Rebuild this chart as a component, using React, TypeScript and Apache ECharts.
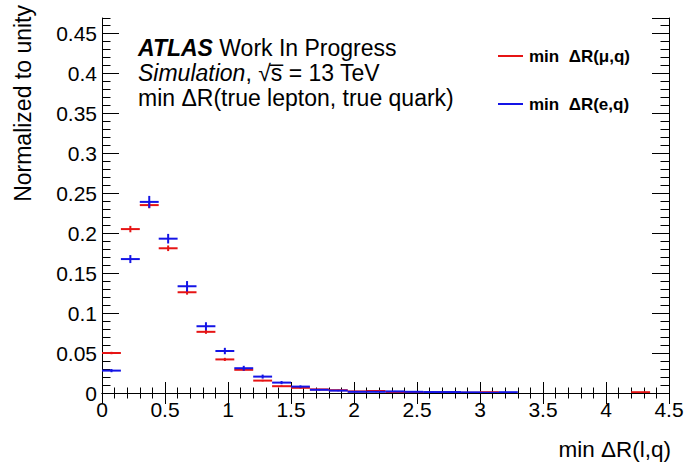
import React, { useEffect, useRef } from "react";
import * as echarts from "echarts";

// Bin edges of the histogram (min ΔR)
const binEdges = [
  0, 0.15, 0.3, 0.45, 0.6, 0.75, 0.9, 1.05, 1.2, 1.35, 1.5, 1.65, 1.8, 1.95, 2.1, 2.25,
  2.4, 2.55, 2.7, 2.85, 3.0, 3.15, 3.3, 3.45, 3.6, 3.75, 3.9, 4.05, 4.2, 4.35, 4.5,
];

// min ΔR(μ,q) normalised contents and errors
const muValues = [
  0.05, 0.205, 0.235, 0.181, 0.126, 0.0765, 0.042, 0.029, 0.0155, 0.0085, 0.0065, 0.0045,
  0.0035, 0.002, 0.0025, 0.001, 0.001, 0.0005, 0.0005, 0.0003, 0.001, 0, 0, 0, 0, 0, 0, 0,
  0.001, 0,
];
const muErrors = [
  0.0015, 0.004, 0.004, 0.0035, 0.003, 0.0025, 0.002, 0.0015, 0.001, 0.001, 0.0008, 0.0006,
  0.0005, 0.0004, 0.0004, 0.0003, 0.0003, 0.0002, 0.0002, 0.0002, 0.0003, 0, 0, 0, 0, 0, 0, 0,
  0.0003, 0,
];

// min ΔR(e,q) normalised contents and errors
const eValues = [
  0.028, 0.1675, 0.239, 0.193, 0.1335, 0.0835, 0.0525, 0.031, 0.0205, 0.013, 0.008, 0.004,
  0.003, 0.0015, 0.0015, 0.002, 0.0015, 0.0012, 0.0012, 0.0008, 0.0003, 0.001, 0, 0, 0, 0, 0,
  0, 0, 0,
];
const eErrors = [
  0.002, 0.005, 0.0075, 0.006, 0.0065, 0.005, 0.004, 0.003, 0.0025, 0.002, 0.0015, 0.001,
  0.0008, 0.0005, 0.0005, 0.0006, 0.0005, 0.0004, 0.0004, 0.0003, 0.0002, 0.0003, 0, 0, 0, 0,
  0, 0, 0, 0,
];

const RED = "#e61414";
const BLUE = "#1414e6";
const FONT = "Liberation Sans";

function buildData(values: number[], errors: number[]) {
  const out: number[][] = [];
  values.forEach((v, i) => {
    if (v > 0) out.push([binEdges[i], binEdges[i + 1], v, errors[i]]);
  });
  return out;
}

function histSeries(name: string, values: number[], errors: number[], color: string) {
  return {
    type: "custom",
    name,
    xAxisIndex: 0,
    yAxisIndex: 0,
    clip: true,
    encode: { x: [0, 1], y: 2 },
    data: buildData(values, errors),
    renderItem: (params: any, api: any) => {
      const x0 = api.value(0);
      const x1 = api.value(1);
      const y = api.value(2);
      const e = api.value(3);
      const p0 = api.coord([x0, y]);
      const p1 = api.coord([x1, y]);
      const xc = (x0 + x1) / 2;
      const pt = api.coord([xc, y + e]);
      const pb = api.coord([xc, y - e]);
      const children: any[] = [
        {
          type: "line",
          shape: { x1: p0[0], y1: p0[1], x2: p1[0], y2: p1[1] },
          style: { stroke: color, lineWidth: 2 },
        },
      ];
      if (pb[1] - pt[1] > 0.5) {
        children.push({
          type: "line",
          shape: { x1: pt[0], y1: pt[1], x2: pb[0], y2: pb[1] },
          style: { stroke: color, lineWidth: 2 },
        });
      }
      return { type: "group", children };
    },
  };
}

const fmt = (v: number) => String(+v.toFixed(3));

export default function App() {
  const ref = useRef<HTMLDivElement>(null);
  useEffect(() => {
    if (!ref.current) return;
    const chart = echarts.init(ref.current, null, { renderer: "svg" });
    const black = { color: "#000", width: 1 };
    const xBase = {
      type: "value",
      min: 0,
      max: 4.5,
      interval: 0.5,
      splitLine: { show: false },
      axisLine: { show: true, lineStyle: black },
      axisTick: { show: true, inside: true, length: 11, lineStyle: black },
      minorTick: { show: true, splitNumber: 5, length: 5.5, lineStyle: black },
    };
    const yMax = 0.469;
    const yMajor = {
      type: "value",
      min: 0,
      max: yMax,
      interval: 0.05,
      splitLine: { show: false },
      axisLine: { show: true, lineStyle: black },
      axisTick: { show: true, inside: true, length: 17, lineStyle: black },
    };
    const yMinor = {
      type: "value",
      min: 0,
      max: yMax,
      interval: 0.01,
      splitLine: { show: false },
      axisLine: { show: false },
      axisLabel: { show: false },
      axisTick: { show: true, inside: true, length: 8.5, lineStyle: black },
    };
    chart.setOption({
      animation: false,
      textStyle: { fontFamily: FONT },
      grid: { left: 102, right: 20, top: 18, bottom: 72 },
      xAxis: [
        {
          ...xBase,
          position: "bottom",
          axisLabel: {
            show: true,
            fontSize: 21,
            color: "#000",
            fontFamily: FONT,
            margin: 6,
            formatter: fmt,
          },
        },
        { ...xBase, position: "top", axisLabel: { show: false } },
      ],
      yAxis: [
        {
          ...yMajor,
          position: "left",
          axisLabel: {
            show: true,
            fontSize: 21,
            color: "#000",
            fontFamily: FONT,
            margin: 5,
            showMaxLabel: false,
            formatter: fmt,
          },
        },
        { ...yMinor, position: "left" },
        { ...yMajor, position: "right", axisLabel: { show: false } },
        { ...yMinor, position: "right" },
      ],
      series: [
        histSeries("min ΔR(μ,q)", muValues, muErrors, RED),
        histSeries("min ΔR(e,q)", eValues, eErrors, BLUE),
      ],
      graphic: [
        {
          type: "text",
          x: 23,
          y: 5,
          rotation: Math.PI / 2,
          style: {
            text: "Normalized to unity",
            fontFamily: FONT,
            fontSize: 23,
            fill: "#000",
            textAlign: "right",
            textVerticalAlign: "middle",
          },
        },
        {
          type: "text",
          x: 671,
          y: 449,
          style: {
            text: "min ΔR(l,q)",
            fontFamily: FONT,
            fontSize: 22.5,
            fill: "#000",
            textAlign: "right",
            textVerticalAlign: "middle",
          },
        },
        {
          type: "text",
          x: 138,
          y: 48,
          style: {
            text: "{a|ATLAS} Work In Progress",
            fontFamily: FONT,
            fontSize: 23,
            fill: "#000",
            textVerticalAlign: "middle",
            rich: {
              a: { fontStyle: "italic", fontWeight: "bold", fontSize: 23, fontFamily: FONT },
            },
          },
        },
        {
          type: "text",
          x: 138,
          y: 73,
          style: {
            text: "{i|Simulation}, √s\u0305 = 13 TeV",
            fontFamily: FONT,
            fontSize: 23,
            fill: "#000",
            textVerticalAlign: "middle",
            rich: { i: { fontStyle: "italic", fontSize: 23, fontFamily: FONT } },
          },
        },
        {
          type: "text",
          x: 138,
          y: 98,
          style: {
            text: "min ΔR(true lepton, true quark)",
            fontFamily: FONT,
            fontSize: 23,
            fill: "#000",
            textVerticalAlign: "middle",
          },
        },
        {
          type: "line",
          shape: { x1: 498, y1: 56, x2: 523, y2: 56 },
          style: { stroke: RED, lineWidth: 2 },
        },
        {
          type: "text",
          x: 529,
          y: 56,
          style: {
            text: "min  ΔR(μ,q)",
            fontFamily: FONT,
            fontSize: 17,
            fontWeight: "bold",
            fill: "#000",
            textVerticalAlign: "middle",
          },
        },
        {
          type: "line",
          shape: { x1: 498, y1: 104, x2: 523, y2: 104 },
          style: { stroke: BLUE, lineWidth: 2 },
        },
        {
          type: "text",
          x: 529,
          y: 104,
          style: {
            text: "min  ΔR(e,q)",
            fontFamily: FONT,
            fontSize: 17,
            fontWeight: "bold",
            fill: "#000",
            textVerticalAlign: "middle",
          },
        },
      ],
    });
    return () => chart.dispose();
  }, []);
  return (
    <div
      ref={ref}
      style={{ position: "absolute", left: 0, top: 0, width: 689, height: 465, background: "#fff" }}
    />
  );
}
